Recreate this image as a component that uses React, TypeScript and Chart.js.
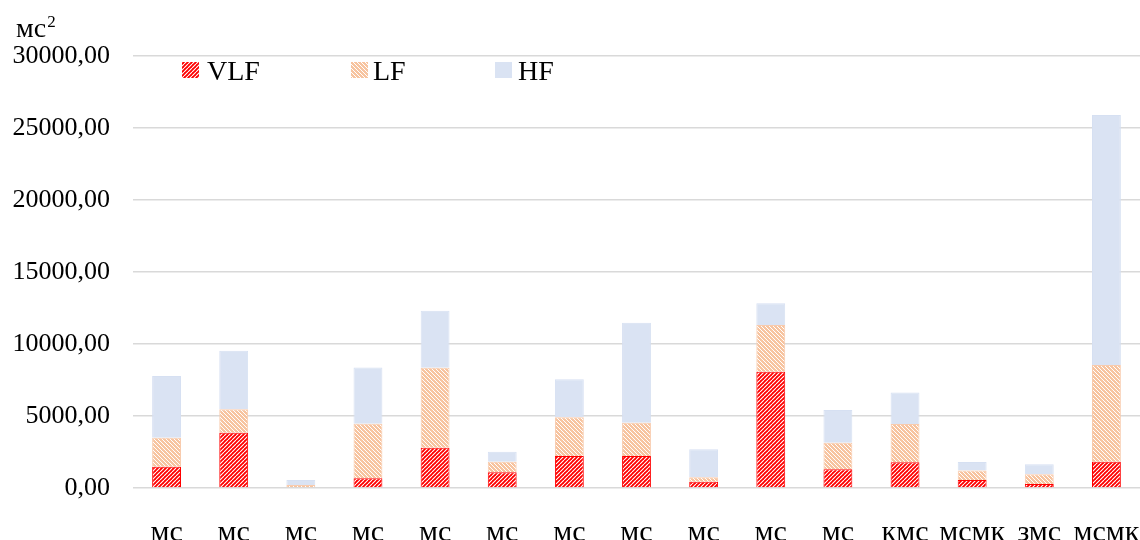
import React, { useEffect, useRef } from "react";
import { Chart, registerables } from "chart.js";

Chart.register(...registerables);

const categories = ["мс", "мс", "мс", "мс", "мс", "мс", "мс", "мс", "мс", "мс", "мс", "кмс", "мсмк", "змс", "мсмк"];
const vlfValues = [1480, 3840, 60, 670, 2800, 1090, 2220, 2220, 440, 8080, 1300, 1780, 560, 280, 1830];
const lfValues = [2010, 1625, 150, 3790, 5555, 740, 2685, 2315, 300, 3240, 1850, 2660, 650, 670, 6710];
const hfValues = [4285, 4070, 350, 3915, 3960, 690, 2640, 6945, 1945, 1505, 2270, 2200, 600, 695, 17360];
const seriesNames = ["VLF", "LF", "HF"];
const yTickStep = 5000;
const yMax = 30000;

const FONT = "'Liberation Serif', 'Times New Roman', serif";

// antialiased diagonal stripe pattern
function makeStrokeStripe(bg: string, fg: string, dir: "up" | "down", size: number, lw: number) {
  const c = document.createElement("canvas");
  c.width = size;
  c.height = size;
  const x = c.getContext("2d")!;
  x.fillStyle = bg;
  x.fillRect(0, 0, size, size);
  x.strokeStyle = fg;
  x.lineWidth = lw;
  x.beginPath();
  for (let k = -1; k <= 1; k++) {
    if (dir === "up") {
      x.moveTo(k * size, size);
      x.lineTo(k * size + size, 0);
    } else {
      x.moveTo(k * size, 0);
      x.lineTo(k * size + size, size);
    }
  }
  x.stroke();
  const ctx = document.createElement("canvas").getContext("2d")!;
  return ctx.createPattern(c, "repeat")!;
}

// pixel-crisp diagonal stripe pattern
function makePixelStripe(bg: string, fg: string, dir: "up" | "down", size: number, fgPixels: number) {
  const c = document.createElement("canvas");
  c.width = size;
  c.height = size;
  const x = c.getContext("2d")!;
  x.fillStyle = bg;
  x.fillRect(0, 0, size, size);
  x.fillStyle = fg;
  for (let py = 0; py < size; py++) {
    for (let px = 0; px < size; px++) {
      const d = dir === "up" ? (px + py) % size : (((px - py) % size) + size) % size;
      if (d < fgPixels) x.fillRect(px, py, 1, 1);
    }
  }
  const ctx = document.createElement("canvas").getContext("2d")!;
  return ctx.createPattern(c, "repeat")!;
}

export default function App() {
  const ref = useRef<HTMLCanvasElement | null>(null);

  useEffect(() => {
    const canvas = ref.current!;
    const vlfPat = makeStrokeStripe("#ff0000", "#ffffff", "up", 4, 1.1);
    const lfPat = makePixelStripe("#ffffff", "#f7c4a0", "down", 4, 3);
    const hfColor = "#dae3f3";
    const fills = [vlfPat, lfPat, hfColor];

    const overlay = {
      id: "overlay",
      afterDraw(chart: any) {
        const ctx = chart.ctx;
        ctx.save();
        // y axis unit title
        ctx.fillStyle = "#000";
        ctx.textBaseline = "alphabetic";
        ctx.textAlign = "left";
        ctx.font = `28px ${FONT}`;
        ctx.fillText("мс", 16, 37);
        const w = ctx.measureText("мс").width;
        ctx.font = `17px ${FONT}`;
        ctx.fillText("2", 16 + w + 1, 27);
        // legend
        const items = [
          { x: 182, tx: 207 },
          { x: 351, tx: 373 },
          { x: 495, tx: 518 },
        ];
        ctx.font = `28px ${FONT}`;
        items.forEach((it, i) => {
          ctx.fillStyle = fills[i];
          ctx.fillRect(it.x, 62, 17, 16);
          ctx.fillStyle = "#000";
          ctx.fillText(seriesNames[i], it.tx, 80);
        });
        ctx.restore();
      },
    };

    const chart = new Chart(canvas, {
      type: "bar",
      data: {
        labels: categories,
        datasets: [
          { label: seriesNames[0], data: vlfValues, backgroundColor: vlfPat as any, borderColor: "#ff0000", borderWidth: 1 },
          { label: seriesNames[1], data: lfValues, backgroundColor: lfPat as any, borderColor: "#f8cbad", borderWidth: 1 },
          { label: seriesNames[2], data: hfValues, backgroundColor: hfColor, borderColor: "#d6e0f2", borderWidth: 1 },
        ],
      },
      options: {
        responsive: false,
        animation: false,
        layout: { padding: { top: 56, left: 0, right: 0, bottom: 0 } },
        datasets: { bar: { barPercentage: 0.43, categoryPercentage: 1 } },
        plugins: { legend: { display: false }, tooltip: { enabled: false } },
        scales: {
          x: {
            stacked: true,
            grid: { display: false },
            border: { display: false },
            ticks: { color: "#000", font: { family: FONT, size: 30 }, padding: 19, maxRotation: 0, autoSkip: false },
            afterFit(scale: any) {
              scale.height = 72;
              scale.paddingLeft = 0;
              scale.paddingRight = 0;
            },
          },
          y: {
            stacked: true,
            min: 0,
            max: yMax,
            grid: { color: "#d9d9d9", lineWidth: 1.5, drawTicks: false },
            border: { display: false },
            ticks: {
              stepSize: yTickStep,
              color: "#000",
              font: { family: FONT, size: 26 },
              padding: 23,
              callback: (v: any) => Number(v).toFixed(2).replace(".", ","),
            },
            afterFit(scale: any) {
              scale.width = 133;
            },
          },
        },
      },
      plugins: [overlay],
    });
    return () => chart.destroy();
  }, []);

  return (
    <div style={{ position: "fixed", left: 0, top: 0, width: 1140, height: 560, background: "#fff" }}>
      <canvas ref={ref} width={1140} height={560} style={{ display: "block" }} />
    </div>
  );
}
